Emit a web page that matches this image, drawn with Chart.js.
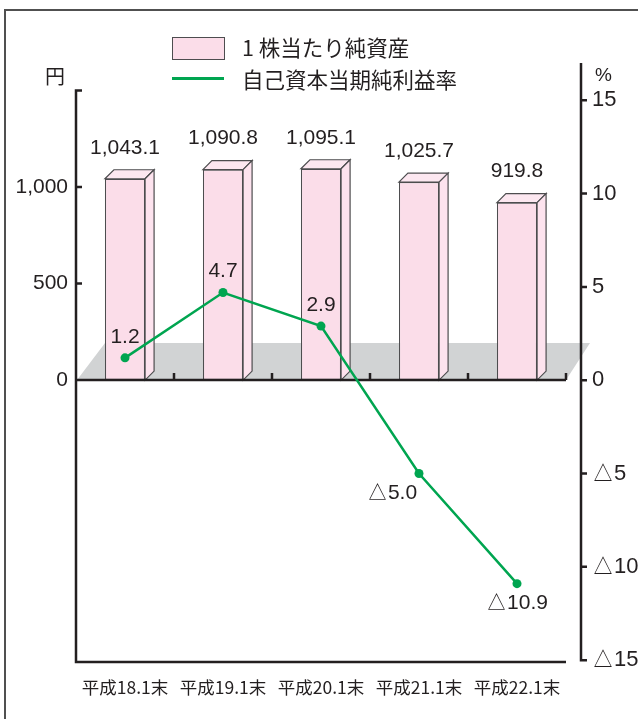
<!DOCTYPE html>
<html lang="ja">
<head>
<meta charset="utf-8">
<title>1株当たり純資産・自己資本当期純利益率</title>
<script src="https://cdn.jsdelivr.net/npm/chart.js@4.4.1/dist/chart.umd.min.js"></script>
<style>
  body { margin: 0; background: #fff; }
  #wrap { position: relative; width: 638px; height: 719px; overflow: hidden; }
  #frame { position: absolute; left: 4px; top: 9px; width: 700px; height: 800px;
           border-left: 2px solid #505050; border-top: 2px solid #505050; }
  #chart { position: absolute; left: 0; top: 0; }
  .lg { position: absolute; font-family: "Noto Sans CJK JP", sans-serif; font-size: 21.5px; color: #231f20; line-height: 1; }
  #lgBox { position: absolute; left: 172px; top: 37px; width: 51px; height: 21px; background: #fbdde9; border: 1px solid #4d4d4f; }
  #lgLine { position: absolute; left: 172px; top: 77px; width: 52px; height: 3px; background: #00a550; }
</style>
</head>
<body>
<div id="wrap">
  <div id="frame"></div>
  <canvas id="chart" width="638" height="719"></canvas>
  <div id="lgBox"></div>
  <div class="lg" style="left:242px; top:36px;">1 株当たり純資産</div>
  <div id="lgLine"></div>
  <div class="lg" style="left:242px; top:68px;">自己資本当期純利益率</div>
  <div class="lg" style="left:45px; top:66px; font-size:20px;">円</div>
  <div class="lg" style="left:595px; top:65px; font-family:'Liberation Sans'; font-size:19px;">%</div>
</div>
<script>
// 年度ごとの値
const categories = ['平成18.1末', '平成19.1末', '平成20.1末', '平成21.1末', '平成22.1末'];
const netAssetsPerShare = [1043.1, 1090.8, 1095.1, 1025.7, 919.8];   // 円
const roeRate = [1.2, 4.7, 2.9, -5.0, -10.9];                        // %
const yenTicks = [0, 500, 1000];
const pctTicks = [15, 10, 5, 0, -5, -10, -15];

// 折れ線ラベルの置き方
const roeLabelPlace = ['above', 'above', 'above', 'belowLeft', 'below'];

const ink = '#231f20';
const green = '#00a550';
const fontLatin = '"Liberation Sans", Arial, sans-serif';

function fmtYen(v) {
  return v.toLocaleString('en-US', { minimumFractionDigits: 1, maximumFractionDigits: 1 });
}
function fmtPct(v, digits) {
  const s = digits ? Math.abs(v).toFixed(digits) : String(Math.abs(v));
  return v < 0 ? '△' + s : s;
}

function poly(ctx, pts, fill, stroke) {
  ctx.beginPath();
  ctx.moveTo(pts[0][0], pts[0][1]);
  for (let i = 1; i < pts.length; i++) ctx.lineTo(pts[i][0], pts[i][1]);
  ctx.closePath();
  if (fill) { ctx.fillStyle = fill; ctx.fill(); }
  if (stroke) { ctx.strokeStyle = stroke; ctx.lineWidth = 1.2; ctx.stroke(); }
}

// 床・立体の棒・軸線・数値ラベル
const box3d = {
  id: 'box3d',
  beforeDatasetsDraw(chart) {
    const ctx = chart.ctx, a = chart.chartArea;
    const y0 = chart.scales.y.getPixelForValue(0);
    ctx.save();
    poly(ctx, [[a.left + 1, y0], [a.left + 29, y0 - 37], [a.right + 24, y0 - 37], [a.right, y0]], '#d1d3d4');
    ctx.restore();
  },
  afterDatasetDraw(chart, args) {
    if (args.index !== 0) return;
    const ctx = chart.ctx, a = chart.chartArea;
    const d = 9;
    ctx.save();
    chart.getDatasetMeta(0).data.forEach(function (bar) {
      const x0 = bar.x - bar.width / 2, x1 = bar.x + bar.width / 2;
      const top = bar.y, base = bar.base;
      poly(ctx, [[x0, top], [x0 + d, top - d], [x1 + d, top - d], [x1, top]], '#fce7f0', '#4d4d4f');
      poly(ctx, [[x1, top], [x1 + d, top - d], [x1 + d, base - d], [x1, base]], '#fde3ee', '#4d4d4f');
    });

    // 軸線
    const ys = chart.scales.y, y2 = chart.scales.y2, xs = chart.scales.x;
    const y0 = ys.getPixelForValue(0);
    ctx.strokeStyle = ink;
    ctx.lineWidth = 2.5;
    ctx.lineCap = 'butt';
    ctx.beginPath();
    // 左軸
    const leftTop = ys.getPixelForValue(1500);
    ctx.moveTo(a.left + 6, leftTop); ctx.lineTo(a.left, leftTop);
    ctx.lineTo(a.left, a.bottom); ctx.lineTo(a.right, a.bottom);
    yenTicks.forEach(function (v) {
      const y = ys.getPixelForValue(v);
      ctx.moveTo(a.left, y); ctx.lineTo(a.left + 6, y);
    });
    // ゼロ線と区切り
    ctx.moveTo(a.left, y0); ctx.lineTo(a.right, y0);
    for (let i = 0; i < categories.length; i++) {
      const x = (xs.getPixelForValue(i) + (i < categories.length - 1 ? xs.getPixelForValue(i + 1) : a.right * 2 - xs.getPixelForValue(i))) / 2;
      ctx.moveTo(x, y0); ctx.lineTo(x, y0 - 7);
    }
    // 右軸
    const rx = a.right + 15;
    const bottomPct = y2.getPixelForValue(-15);
    ctx.moveTo(rx, a.top); ctx.lineTo(rx, bottomPct); ctx.lineTo(rx + 6, bottomPct);
    pctTicks.forEach(function (v) {
      const y = y2.getPixelForValue(v);
      ctx.moveTo(rx, y); ctx.lineTo(rx + 6, y);
    });
    ctx.stroke();
    ctx.restore();
  },
  afterDraw(chart) {
    const ctx = chart.ctx;
    ctx.save();
    ctx.fillStyle = ink;
    ctx.textAlign = 'center';
    ctx.textBaseline = 'middle';
    ctx.font = '21px ' + fontLatin;
    chart.getDatasetMeta(0).data.forEach(function (bar, i) {
      ctx.fillText(fmtYen(netAssetsPerShare[i]), bar.x, bar.y - 31);
    });
    chart.getDatasetMeta(1).data.forEach(function (pt, i) {
      const txt = fmtPct(roeRate[i], 1);
      const place = roeLabelPlace[i];
      let x = pt.x, y = pt.y - 21;
      if (place === 'below') { y = pt.y + 20; }
      if (place === 'belowLeft') { x = pt.x - 27; y = pt.y + 20; }
      ctx.fillText(txt, x, y);
    });
    ctx.restore();
  }
};

new Chart(document.getElementById('chart'), {
  data: {
    labels: categories,
    datasets: [{
      type: 'bar',
      label: '1 株当たり純資産',
      data: netAssetsPerShare,
      yAxisID: 'y',
      backgroundColor: '#fbdde9',
      borderColor: '#4d4d4f',
      borderWidth: 1.2,
      borderSkipped: false,
      categoryPercentage: 1,
      barPercentage: 0.41,
      order: 2
    }, {
      type: 'line',
      label: '自己資本当期純利益率',
      data: roeRate,
      yAxisID: 'y2',
      borderColor: green,
      backgroundColor: green,
      borderWidth: 2.5,
      pointRadius: 4.5,
      pointBorderWidth: 0,
      tension: 0,
      order: 1
    }]
  },
  options: {
    responsive: false,
    devicePixelRatio: 1,
    animation: false,
    layout: { padding: { top: 63, left: 0, right: 0, bottom: 0 } },
    plugins: { legend: { display: false }, tooltip: { enabled: false } },
    scales: {
      x: {
        offset: true,
        grid: { display: false, drawTicks: false },
        border: { display: false },
        ticks: { color: ink, padding: 15, font: { family: '"Noto Sans CJK JP", sans-serif', size: 17.5 }, maxRotation: 0, autoSkip: false },
        afterFit: function (s) { s.height = 57; }
      },
      y: {
        position: 'left',
        min: -1461, max: 1643,
        grid: { display: false, drawTicks: false },
        border: { display: false },
        ticks: { color: ink, padding: 8, font: { family: fontLatin, size: 21 }, callback: function (v) { return v.toLocaleString('en-US'); } },
        afterBuildTicks: function (s) { s.ticks = yenTicks.map(function (v) { return { value: v }; }); },
        afterFit: function (s) { s.width = 76; }
      },
      y2: {
        position: 'right',
        min: -15.1, max: 17,
        grid: { display: false, drawTicks: false },
        border: { display: false },
        ticks: { color: ink, padding: 26, font: { family: fontLatin, size: 22 }, callback: function (v) { return fmtPct(v); } },
        afterBuildTicks: function (s) { s.ticks = pctTicks.map(function (v) { return { value: v }; }); },
        afterFit: function (s) { s.width = 72; }
      }
    }
  },
  plugins: [box3d]
});
</script>
</body>
</html>
